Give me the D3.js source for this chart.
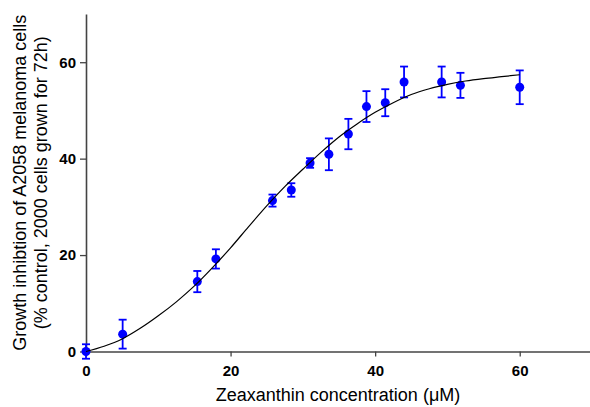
<!DOCTYPE html>
<html>
<head>
<meta charset="utf-8">
<script src="https://cdn.jsdelivr.net/npm/d3@7"></script>
<style>
  html, body { margin: 0; padding: 0; background: #fff; }
  svg { display: block; font-family: "Liberation Sans", Arial, sans-serif; }
</style>
</head>
<body>
<svg id="chart" width="590" height="407"></svg>
<script>
// ---- data ----
const concentration = [0, 5.07, 15.4, 17.97, 25.8, 28.4, 31.0, 33.6, 36.3, 38.8, 41.4, 44.0, 49.2, 51.8, 60.0];
const inhibition    = [0, 3.6, 14.5, 19.2, 31.3, 33.5, 39.1, 40.9, 45.1, 50.8, 51.6, 55.9, 55.9, 55.2, 54.8];
const semValues     = [1.5, 3.0, 2.2, 2.0, 1.25, 1.4, 1.0, 3.3, 3.15, 3.2, 2.8, 3.2, 3.2, 2.6, 3.5];

const fitX = [0, 2.5, 5, 7.5, 10, 12.5, 15, 17.5, 20, 22.5, 25, 27.5, 30, 32.5, 35, 37.5, 40, 42.5, 45, 47.5, 50, 52.5, 55, 57.5, 60];
const fitY = [0, 1.1, 2.6, 4.8, 7.4, 10.3, 13.6, 17.4, 21.5, 25.9, 30.2, 34.2, 37.8, 41.3, 44.5, 47.2, 49.6, 51.6, 53.3, 54.5, 55.4, 56.1, 56.6, 57.0, 57.4];

const xTicks = [0, 20, 40, 60];
const yTicks = [0, 20, 40, 60];
const xDomain = [0, 70];
const yDomain = [0, 70];
const xTitle = "Zeaxanthin concentration (\u03BCM)";
const yTitleLines = ["Growth inhibtion of A2058 melanoma cells", "(% control, 2000 cells grown for 72h)"];

// ---- layout ----
const svg = d3.select("#chart");
const M = { left: 86, right: 592, top: 14, bottom: 351.5 };

const x = d3.scaleLinear().domain(xDomain).range([M.left, M.right]);
const y = d3.scaleLinear().domain(yDomain).range([M.bottom, M.top]);

const axisColor = "#444";
const blue = "#0000ff";

// x axis
const gx = svg.append("g")
  .attr("transform", `translate(0,${M.bottom})`)
  .call(d3.axisBottom(x).tickValues(xTicks).tickSize(5).tickPadding(8.5).tickSizeOuter(0));
// y axis
const gy = svg.append("g")
  .attr("transform", `translate(${M.left},0)`)
  .call(d3.axisLeft(y).tickValues(yTicks).tickSize(6).tickPadding(4).tickSizeOuter(0));

[gx, gy].forEach(g => {
  g.select(".domain").attr("stroke", axisColor).attr("stroke-width", 1.6);
  g.selectAll(".tick line").attr("stroke", axisColor).attr("stroke-width", 1.3);
  g.selectAll(".tick text")
    .attr("fill", "#000")
    .style("font-family", '"Liberation Sans", Arial, sans-serif')
    .style("font-size", "15px")
    .style("font-weight", "bold");
});

// axis titles
svg.append("text")
  .attr("x", (M.left + M.right) / 2 - 1)
  .attr("y", 401)
  .attr("text-anchor", "middle")
  .style("font-size", "18px")
  .attr("fill", "#000")
  .text(xTitle);

const yCenter = (M.top + M.bottom) / 2;
const yTitle = svg.append("text")
  .attr("transform", `translate(0,${yCenter}) rotate(-90)`)
  .attr("text-anchor", "middle")
  .style("font-size", "18px")
  .attr("fill", "#000");
yTitle.append("tspan").attr("x", 0).attr("y", 26).text(yTitleLines[0]);
yTitle.append("tspan").attr("x", 0).attr("y", 47).text(yTitleLines[1]);

// data
const pts = concentration.map((c, i) => ({ c, v: inhibition[i], e: semValues[i] }));

// error bars
const eb = svg.append("g").attr("stroke", blue).attr("stroke-width", 1.8).attr("fill", "none");
const capW = 4;
pts.forEach(d => {
  const px = x(d.c);
  const y1 = y(d.v + d.e), y0 = y(d.v - d.e);
  eb.append("line").attr("x1", px).attr("x2", px).attr("y1", y1).attr("y2", y0);
  eb.append("line").attr("x1", px - capW).attr("x2", px + capW).attr("y1", y1).attr("y2", y1);
  eb.append("line").attr("x1", px - capW).attr("x2", px + capW).attr("y1", y0).attr("y2", y0);
});

// dots
svg.append("g").selectAll("circle")
  .data(pts)
  .join("circle")
  .attr("cx", d => x(d.c))
  .attr("cy", d => y(d.v))
  .attr("r", 4.5)
  .attr("fill", blue);

// fitted curve
const fit = fitX.map((v, i) => [v, fitY[i]]);
svg.append("path")
  .datum(fit)
  .attr("fill", "none")
  .attr("stroke", "#000")
  .attr("stroke-width", 1.2)
  .attr("d", d3.line().x(d => x(d[0])).y(d => y(d[1])).curve(d3.curveMonotoneX));
</script>
</body>
</html>
